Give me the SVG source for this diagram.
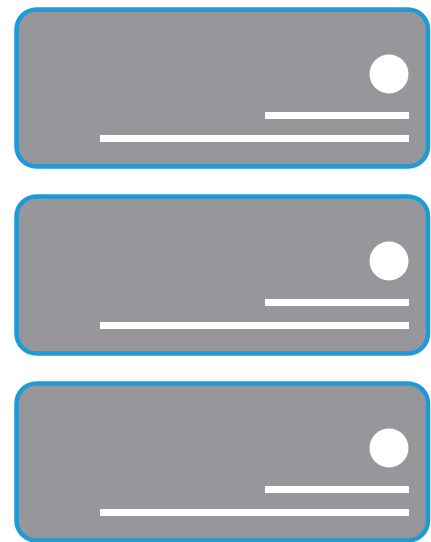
<svg xmlns="http://www.w3.org/2000/svg" width="431" height="542" viewBox="0 0 431 542">
<defs>
<style>
.card{fill:#97979b;stroke:#1e9bd7;stroke-width:4.5}
.dot{fill:#ffffff}
.bar{fill:#ffffff}
</style>
<g id="cardShape">
<rect class="card" x="16.5" y="9.5" width="411.5" height="157" rx="20" ry="20"/>
<circle class="dot" cx="389" cy="74" r="19.5"/>
<rect class="bar" x="265" y="112" width="144" height="7"/>
<rect class="bar" x="100" y="135" width="309" height="7"/>
</g>
</defs>
<g id="card1"><use href="#cardShape"/></g>
<g id="card2"><use href="#cardShape" transform="translate(0,187)"/></g>
<g id="card3"><use href="#cardShape" transform="translate(0,374)"/></g>
<g id="connectors"/>
</svg>
